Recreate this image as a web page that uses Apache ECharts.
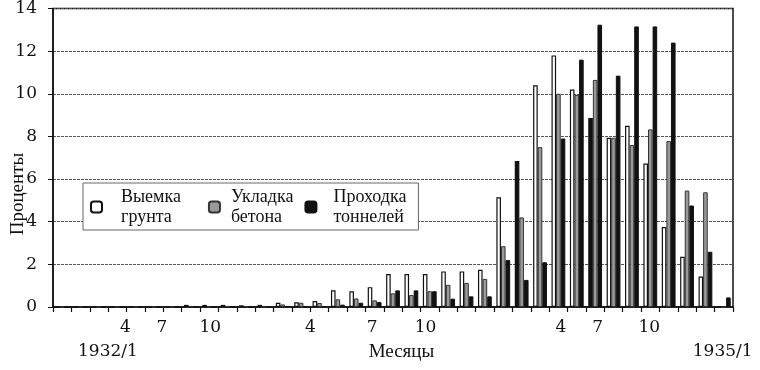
<!DOCTYPE html>
<html>
<head>
<meta charset="utf-8">
<script src="https://cdn.jsdelivr.net/npm/echarts@6/dist/echarts.min.js"></script>
<style>html,body{margin:0;padding:0;background:#fff;}#c{width:760px;height:370px;}</style>
</head>
<body>
<div id="c"></div>
<script>
const categories = ['1932/1','1932/2','1932/3','1932/4','1932/5','1932/6','1932/7','1932/8','1932/9','1932/10','1932/11','1932/12',
  '1933/1','1933/2','1933/3','1933/4','1933/5','1933/6','1933/7','1933/8','1933/9','1933/10','1933/11','1933/12',
  '1934/1','1934/2','1934/3','1934/4','1934/5','1934/6','1934/7','1934/8','1934/9','1934/10','1934/11','1934/12','1935/1'];
const seriesNames = ['Выемка грунта', 'Укладка бетона', 'Проходка тоннелей'];
const excavation = [0,0,0,0,0,0,0,0.1,0.1,0.1,0.08,0.1,
  0.2,0.22,0.28,0.78,0.74,0.93,1.55,1.55,1.55,1.67,1.67,1.75,
  5.15,6.85,10.4,11.8,10.2,8.87,7.94,8.5,6.73,3.75,2.36,1.43,0];
const concrete = [0,0,0,0,0,0,0,0.05,0.05,0.05,0.04,0.05,
  0.12,0.2,0.19,0.36,0.4,0.31,0.64,0.56,0.74,1.04,1.13,1.32,
  2.85,4.2,7.5,10.0,9.95,10.65,7.94,7.6,8.33,7.78,5.46,5.38,0];
const tunnels = [0,0,0,0,0,0,0,0,0,0,0,0,
  0.04,0.02,0.04,0.11,0.2,0.23,0.78,0.78,0.74,0.39,0.5,0.5,
  2.2,1.27,2.1,7.9,11.6,13.24,10.85,13.16,13.16,12.4,4.76,2.59,0.45];
// months whose excavation bar is printed filled in the picture
const darkFilledExcavation = ['1934/2', '1934/6'];
const yTicks = [0, 2, 4, 6, 8, 10, 12, 14];
// month tick labels and where they sit, in months counted from the start of 1932/1
const monthTickLabels = ['4','7','10','4','7','10','4','7','10'];
const monthTickAt = [3.94, 5.92, 8.56, 14.0, 17.37, 20.27, 27.63, 29.63, 32.44];
const bottomLabels = ['1932/1', 'Месяцы', '1935/1'];
const bottomLabelAt = [2.99, 18.96, 36.44];

const numFont = '"DejaVu Serif"';
const txtFont = '"Liberation Serif"';

function lookup(at, labels, v) {
  for (let i = 0; i < at.length; i++) if (Math.abs(at[i] - v) < 1e-6) return labels[i];
  return '';
}

const chart = echarts.init(document.getElementById('c'), null, {renderer: 'canvas'});
const barCommon = {type: 'bar', barWidth: 4.6, barGap: '0%', xAxisIndex: 0, animation: false};
chart.setOption({
  animation: false,
  grid: {left: 53, right: 27, top: 5, bottom: 63, show: true, borderColor: '#111', borderWidth: 1.5, backgroundColor: 'transparent'},
  legend: {
    left: 83, top: 183, orient: 'horizontal', itemGap: 11,
    itemWidth: 11, itemHeight: 11,
    padding: [4, 12, 3, 7],
    backgroundColor: '#fff', borderColor: '#666', borderWidth: 1,
    formatter: n => n.replace(' ', '\n'),
    textStyle: {fontFamily: txtFont, fontSize: 18, lineHeight: 20, color: '#111'},
    data: [
      {name: seriesNames[0], textStyle: {padding: [0, 16, 0, 14]}},
      {name: seriesNames[1], textStyle: {padding: [0, 0, 0, 6]}},
      {name: seriesNames[2], textStyle: {padding: [0, 0, 0, 12]}}
    ]
  },
  xAxis: [
    {type: 'category', data: categories, boundaryGap: true,
     axisLine: {lineStyle: {color: '#111', width: 1.5}},
     axisTick: {show: true, interval: 0, length: 5, lineStyle: {color: '#111', width: 1.2}},
     axisLabel: {show: false}, splitLine: {show: false}},
    {type: 'value', min: 0, max: categories.length, position: 'bottom',
     axisLine: {show: false}, axisTick: {show: false}, splitLine: {show: false},
     axisLabel: {customValues: monthTickAt, margin: 12, fontFamily: numFont, fontSize: 17, color: '#111',
       formatter: v => lookup(monthTickAt, monthTickLabels, v)}},
    {type: 'value', min: 0, max: categories.length, position: 'bottom', offset: 24,
     axisLine: {show: false}, axisTick: {show: false}, splitLine: {show: false},
     axisLabel: {customValues: bottomLabelAt, margin: 12, fontFamily: numFont, fontSize: 17, color: '#111',
       formatter: v => {
         const s = lookup(bottomLabelAt, bottomLabels, v);
         return /\d/.test(s) ? s : '{t|' + s + '}';
       },
       rich: {t: {fontFamily: txtFont, fontSize: 19, color: '#111'}}}}
  ],
  yAxis: {type: 'value', min: yTicks[0], max: yTicks[yTicks.length - 1], interval: 2,
    axisLine: {show: true, lineStyle: {color: '#111', width: 1.5}},
    axisTick: {show: true, length: 5, lineStyle: {color: '#111'}},
    axisLabel: {margin: 16, fontFamily: numFont, fontSize: 17, color: '#111'},
    splitLine: {show: true, lineStyle: {color: '#555', type: [3, 1], width: 1}}},
  graphic: [{type: 'text', x: 18, y: 194, rotation: Math.PI / 2,
    style: {text: 'Проценты', font: '19px "Liberation Serif"', fill: '#111', textAlign: 'center', textVerticalAlign: 'middle'}}],
  series: [
    Object.assign({}, barCommon, {name: seriesNames[0],
      itemStyle: {color: '#fff', borderColor: '#111', borderWidth: 1.2},
      data: excavation.map((v, i) => darkFilledExcavation.includes(categories[i])
        ? {value: v, itemStyle: {color: '#111'}} : v)}),
    Object.assign({}, barCommon, {name: seriesNames[1],
      itemStyle: {color: '#9a9a9a', borderColor: '#333', borderWidth: 1},
      data: concrete}),
    Object.assign({}, barCommon, {name: seriesNames[2],
      itemStyle: {color: '#111', borderColor: '#111', borderWidth: 1},
      data: tunnels})
  ]
});
</script>
</body>
</html>
